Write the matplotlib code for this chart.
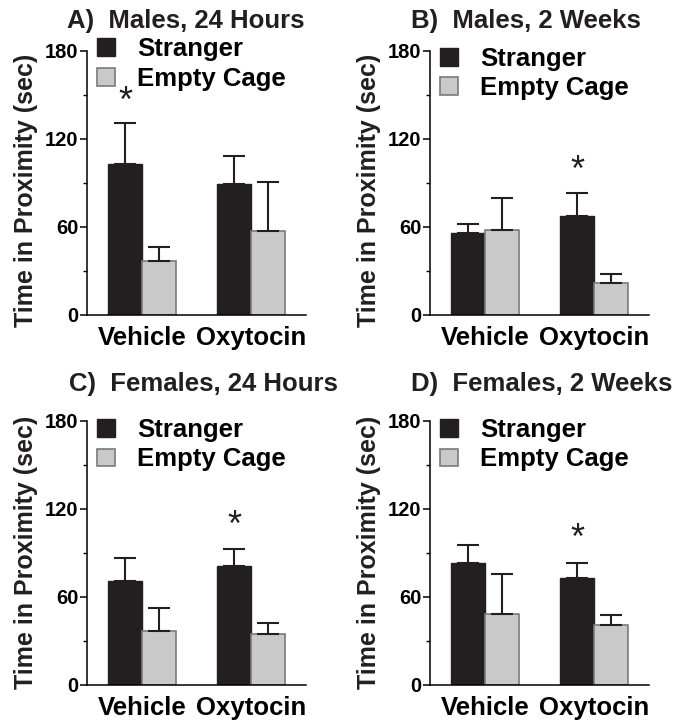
import numpy as np
import matplotlib
matplotlib.use('Agg')
import matplotlib.pyplot as plt
from matplotlib.patches import Patch

plt.rcParams['font.family'] = ['Liberation Sans', 'DejaVu Sans']
plt.rcParams['font.weight'] = 'bold'

# データ
groups = ['Vehicle', 'Oxytocin']
series = ['Stranger', 'Empty Cage']
titles = ['A)  Males, 24 Hours', 'B)  Males, 2 Weeks',
          'C)  Females, 24 Hours', 'D)  Females, 2 Weeks']

stranger_a = [102.8, 89.0]
stranger_a_err = [27.7, 19.0]
empty_a = [37.0, 57.2]
empty_a_err = [9.5, 33.1]

stranger_b = [55.8, 67.6]
stranger_b_err = [6.4, 15.2]
empty_b = [57.6, 22.0]
empty_b_err = [21.8, 5.7]

stranger_c = [70.9, 81.4]
stranger_c_err = [15.9, 11.6]
empty_c = [37.0, 34.5]
empty_c_err = [15.5, 7.5]

stranger_d = [83.2, 73.2]
stranger_d_err = [12.0, 10.2]
empty_d = [48.4, 41.1]
empty_d_err = [27.1, 6.4]

# 有意差（*）の位置: (群の番号, y)
star_a = (0, 145.0)
star_b = (1, 98.0)
star_c = (1, 108.0)
star_d = (1, 99.0)

panels = [
    (stranger_a, stranger_a_err, empty_a, empty_a_err, star_a),
    (stranger_b, stranger_b_err, empty_b, empty_b_err, star_b),
    (stranger_c, stranger_c_err, empty_c, empty_c_err, star_c),
    (stranger_d, stranger_d_err, empty_d, empty_d_err, star_d),
]

W, H = 686, 723
black = '#231f20'
gray = '#c9c9c9'
gray_edge = '#7a7a7a'

fig = plt.figure(figsize=(W / 100, H / 100), dpi=100)

# 各パネルの位置（ピクセル）: 左, 上, 下
boxes = [(87, 50.7, 315), (430, 50.7, 315), (87, 421, 685), (430, 421, 685)]
title_pos = [(67, 21), (411, 21), (69, 384), (411, 384)]
ylabel_pos = [(26, 190), (369, 190), (26, 552), (369, 552)]
legend_top = [1.05, 1.015, 1.01, 1.01]

x = np.arange(len(groups))
w = 0.31

for i, (s, s_err, e, e_err, star) in enumerate(panels):
    left, top, bottom = boxes[i]
    ax = fig.add_axes([left / W, 1 - bottom / H, 219 / W, (bottom - top) / H])

    ax.bar(x - w / 2, s, w, color=black, edgecolor=black, linewidth=1.0)
    ax.bar(x + w / 2, e, w, color=gray, edgecolor=gray_edge, linewidth=1.2)
    ax.errorbar(x - w / 2, s, yerr=[np.zeros(2), s_err], fmt='none',
                ecolor=black, elinewidth=1.5, capsize=8, capthick=1.5)
    ax.errorbar(x + w / 2, e, yerr=[np.zeros(2), e_err], fmt='none',
                ecolor=black, elinewidth=1.5, capsize=8, capthick=1.5)

    ax.text(star[0] - w / 2, star[1], '*', ha='center', va='center',
            fontsize=26, fontweight='normal', color=black)

    ax.set_xlim(-0.505, 1.505)
    ax.set_ylim(0, 180)
    ax.set_yticks([0, 60, 120, 180])
    ax.set_yticks([30, 90, 150], minor=True)
    ax.set_xticks(x)
    ax.set_xticklabels(groups, fontsize=18.5, fontweight='bold')
    ax.tick_params(axis='x', length=0, pad=8)
    ax.tick_params(axis='y', which='major', length=5, width=1.1, pad=1,
                   labelsize=14.5)
    ax.tick_params(axis='y', which='minor', length=3, width=1.0)

    ax.spines['right'].set_visible(False)  # 右側の枠線を非表示
    ax.spines['top'].set_visible(False)  # 上側の枠線を非表示
    ax.spines['left'].set_linewidth(1.1)
    ax.spines['bottom'].set_linewidth(1.1)

    handles = [Patch(facecolor=black, edgecolor=black),
               Patch(facecolor=gray, edgecolor=gray_edge, linewidth=1.2)]
    ax.legend(handles, series, loc='upper left',
              bbox_to_anchor=(0.045, legend_top[i]), frameon=False,
              fontsize=18.5, handlelength=0.7, handleheight=0.7,
              handletextpad=0.86, labelspacing=0.2, borderpad=0,
              borderaxespad=0)

    tx, ty = title_pos[i]
    fig.text(tx / W, 1 - ty / H, titles[i], fontsize=18.5, fontweight='bold',
             ha='left', va='center', color=black)
    lx, ly = ylabel_pos[i]
    fig.text(lx / W, 1 - ly / H, 'Time in Proximity (sec)', fontsize=18,
             fontweight='bold', rotation=90, ha='center', va='center',
             color=black)

fig.savefig('out.png', dpi=100)
